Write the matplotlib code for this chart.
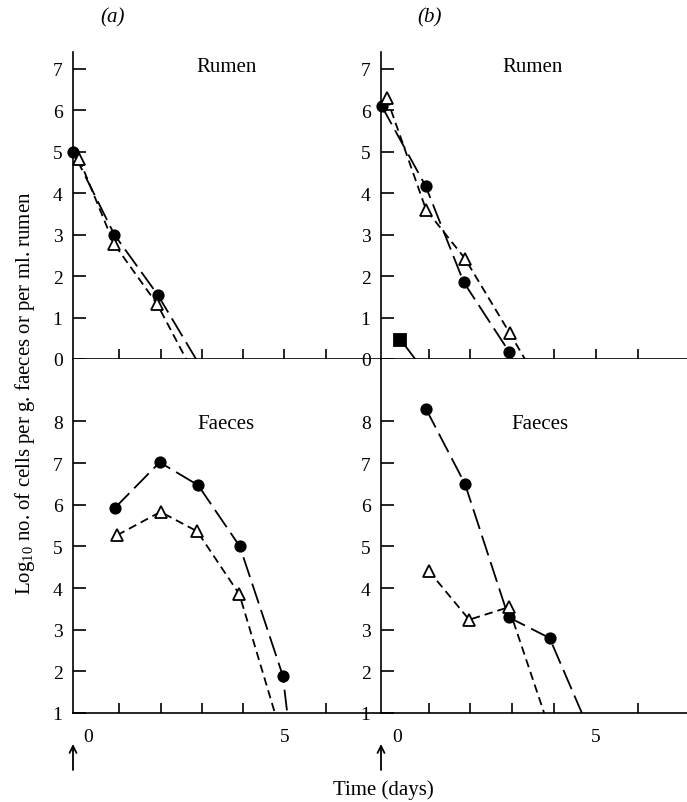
import matplotlib
matplotlib.use('Agg')
import matplotlib.pyplot as plt
from matplotlib.ticker import FixedLocator

plt.rcParams['font.family'] = ['Liberation Serif', 'DejaVu Serif']
plt.rcParams['mathtext.fontset'] = 'custom'
plt.rcParams['mathtext.rm'] = 'Liberation Serif'
plt.rcParams['mathtext.it'] = 'Liberation Serif:italic'
plt.rcParams['lines.scale_dashes'] = False

# ---------------- data (days, log10 counts) ----------------
# (a) Rumen
rumen_a_circle_x = [-0.12, 0.88, 1.93]
rumen_a_circle_y = [5.0, 3.0, 1.55]
rumen_a_circle_end = [2.86, 0.0]
rumen_a_tri_x = [0.03, 0.87, 1.92]
rumen_a_tri_y = [4.82, 2.78, 1.32]
rumen_a_tri_end = [2.62, 0.0]

# (b) Rumen
rumen_b_circle_x = [-0.12, 0.93, 1.84, 2.92]
rumen_b_circle_y = [6.1, 4.17, 1.85, 0.18]
rumen_b_tri_x = [0.0, 0.94, 1.87, 2.94]
rumen_b_tri_y = [6.3, 3.6, 2.42, 0.62]
rumen_b_tri_end = [3.3, 0.0]
rumen_b_square_x = [0.33]
rumen_b_square_y = [0.47]
rumen_b_square_end = [0.68, 0.0]

# (a) Faeces
faeces_a_circle_x = [0.89, 1.98, 2.91, 3.92, 4.96]
faeces_a_circle_y = [5.92, 7.02, 6.47, 5.0, 1.9]
faeces_a_circle_end = [5.07, 1.0]
faeces_a_tri_x = [0.95, 2.0, 2.89, 3.91]
faeces_a_tri_y = [5.27, 5.83, 5.36, 3.85]
faeces_a_tri_end = [4.77, 1.0]

# (b) Faeces
faeces_b_circle_x = [0.94, 1.87, 2.91, 3.89]
faeces_b_circle_y = [8.3, 6.5, 3.3, 2.8]
faeces_b_circle_end = [4.66, 1.0]
faeces_b_tri_x = [1.0, 1.97, 2.91]
faeces_b_tri_y = [4.42, 3.24, 3.54]
faeces_b_tri_end = [3.76, 1.0]

rumen_yticks = [0, 1, 2, 3, 4, 5, 6, 7]
faeces_yticks = [1, 2, 3, 4, 5, 6, 7, 8]
day_ticks = [1, 2, 3, 4, 5, 6]
day_labels = ['0', '5']

# ---------------- layout ----------------
W, H = 687, 803
fig = plt.figure(figsize=(W / 100, H / 100), dpi=100)


def px_axes(x0, y0, x1, y1):
    return fig.add_axes([x0 / W, 1 - y1 / H, (x1 - x0) / W, (y1 - y0) / H])


ax_ta = px_axes(73, 53, 381, 360)
ax_ba = px_axes(73, 360, 381, 714)
ax_tb = px_axes(381, 53, 687, 360)
ax_bb = px_axes(381, 360, 687, 714)

LONG = (0, (15, 5))
SHORT = (0, (6, 3.6))
LW = 1.3


def style(ax, xlim, ylim, yticks, bottom_labels):
    ax.set_xlim(*xlim)
    ax.set_ylim(*ylim)
    for s in ('top', 'right'):
        ax.spines[s].set_visible(False)
    for s in ('left', 'bottom'):
        ax.spines[s].set_linewidth(1.2)
    ax.set_yticks(yticks)
    ax.set_yticklabels([str(t) for t in yticks])
    ax.tick_params(axis='y', direction='in', length=9, width=1.2,
                   pad=7.5, labelsize=14)
    ax.xaxis.set_minor_locator(FixedLocator(day_ticks))
    ax.tick_params(axis='x', which='minor', direction='in', length=7,
                   width=1.2)
    if bottom_labels:
        ax.set_xticks([0.24, 5])
        ax.set_xticklabels(day_labels)
        ax.tick_params(axis='x', which='major', length=0, pad=11,
                       labelsize=14)
    else:
        ax.set_xticks([])


def series(ax, xs, ys, end, ls, marker, filled=True, ms=7.5):
    lx = list(xs) + ([end[0]] if end else [])
    ly = list(ys) + ([end[1]] if end else [])
    ax.plot(lx, ly, color='black', lw=LW, linestyle=ls, zorder=2,
            clip_on=False, dash_capstyle='butt')
    ax.plot(xs, ys, linestyle='none', marker=marker, ms=ms,
            mfc='black' if filled else 'white', mec='black', mew=1.3,
            zorder=3, clip_on=False)


style(ax_ta, (-0.12, 7.34), (0, 7.4), rumen_yticks, False)
style(ax_tb, (-0.135, 7.17), (0, 7.4), rumen_yticks, False)
style(ax_ba, (-0.12, 7.34), (1, 9.5), faeces_yticks, True)
style(ax_bb, (-0.135, 7.17), (1, 9.5), faeces_yticks, True)

series(ax_ta, rumen_a_circle_x, rumen_a_circle_y, rumen_a_circle_end, LONG, 'o')
series(ax_ta, rumen_a_tri_x, rumen_a_tri_y, rumen_a_tri_end, SHORT, '^', False, 8.5)

series(ax_tb, rumen_b_circle_x, rumen_b_circle_y, None, LONG, 'o')
series(ax_tb, rumen_b_tri_x, rumen_b_tri_y, rumen_b_tri_end, SHORT, '^', False, 8.5)
series(ax_tb, rumen_b_square_x, rumen_b_square_y, rumen_b_square_end, '-', 's', True, 8)

series(ax_ba, faeces_a_circle_x, faeces_a_circle_y, faeces_a_circle_end, LONG, 'o')
series(ax_ba, faeces_a_tri_x, faeces_a_tri_y, faeces_a_tri_end, SHORT, '^', False, 8.5)

series(ax_bb, faeces_b_circle_x, faeces_b_circle_y, faeces_b_circle_end, LONG, 'o')
series(ax_bb, faeces_b_tri_x, faeces_b_tri_y, faeces_b_tri_end, SHORT, '^', False, 8.5)

for ax in (ax_ba, ax_bb):
    ax.annotate('', xy=(0, 1 - 745 / H), xytext=(0, 1 - 771 / H),
                xycoords=('axes fraction', 'figure fraction'),
                textcoords=('axes fraction', 'figure fraction'),
                arrowprops=dict(arrowstyle='->,head_length=0.5,head_width=0.25',
                                lw=1.3, color='black', shrinkA=0, shrinkB=0))


def ftext(x, y, s, **kw):
    fig.text(x / W, 1 - y / H, s, ha='center', va='center', **kw)


ftext(113, 18, '(a)', fontsize=15, style='italic')
ftext(430, 18, '(b)', fontsize=15, style='italic')
ftext(227, 68, 'Rumen', fontsize=15)
ftext(533, 68, 'Rumen', fontsize=15)
ftext(226, 425, 'Faeces', fontsize=15)
ftext(540, 425, 'Faeces', fontsize=15)
ftext(383, 790, 'Time (days)', fontsize=15)
ftext(25, 393, r'Log$_{\mathrm{10}}$ no. of cells per g. faeces or per ml. rumen',
      fontsize=15, rotation=90)

fig.savefig('out.png', dpi=100)
